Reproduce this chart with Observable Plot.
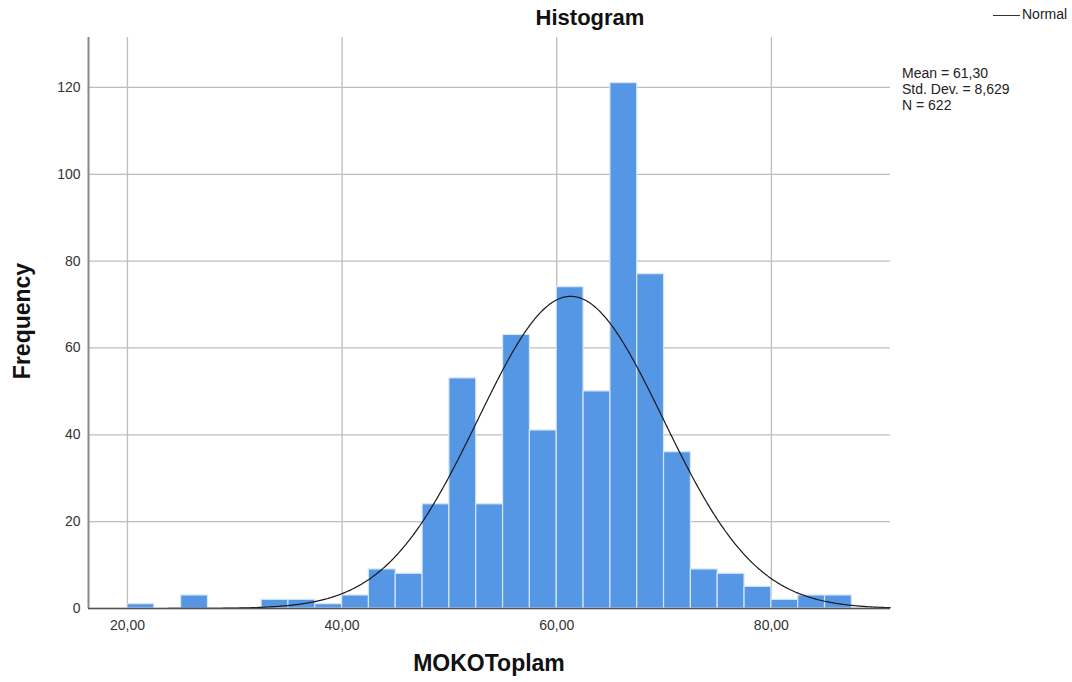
<!DOCTYPE html>
<html>
<head>
<meta charset="utf-8">
<script src="https://cdn.jsdelivr.net/npm/d3@7"></script>
<script src="https://cdn.jsdelivr.net/npm/@observablehq/plot@0.6"></script>
<style>
  body { margin: 0; background: #fff; font-family: "Liberation Sans", Arial, sans-serif; }
  #wrap { position: relative; width: 1072px; height: 682px; }
  .abs { position: absolute; white-space: nowrap; color: #000; }
</style>
</head>
<body>
<div id="wrap"></div>
<script>
// Bin edges (width 2.5) and frequencies
const binStarts = [20, 25, 32.5, 35, 37.5, 40, 42.5, 45, 47.5, 50, 52.5, 55, 57.5, 60, 62.5, 65, 67.5, 70, 72.5, 75, 77.5, 80, 82.5, 85];
const counts    = [1, 3, 2, 2, 1, 3, 9, 8, 24, 53, 24, 63, 41, 74, 50, 121, 77, 36, 9, 8, 5, 2, 3, 3];
const binWidth = 2.5;
const mean = 61.30, sd = 8.629, n = 622;
const xTicks = [20, 40, 60, 80];
const xTickLabels = ["20,00", "40,00", "60,00", "80,00"];
const yTicks = [0, 20, 40, 60, 80, 100, 120];

const bins = binStarts.map((s, i) => ({x1: s, x2: s + binWidth, y: counts[i]}));

const xDomain = [16.37, 91.1];
// Fitted normal curve defined by the stated Mean, Std. Dev. and N
const curve = d3.range(xDomain[0], xDomain[1] + 0.01, 0.1).map(x => ({
  x, y: n * binWidth * Math.exp(-0.5 * ((x - mean) / sd) ** 2) / (sd * Math.sqrt(2 * Math.PI))
}));

const chart = Plot.plot({
  width: 1072, height: 682,
  marginLeft: 88, marginRight: 182, marginTop: 37, marginBottom: 74,
  style: {fontFamily: "'Liberation Sans', Arial, sans-serif", fontSize: "14px", color: "#333", background: "#fff"},
  x: {domain: xDomain, ticks: xTicks, tickFormat: (d, i) => xTickLabels[i], tickSize: 0, tickPadding: 13, label: null},
  y: {domain: [0, 131.5], ticks: yTicks, tickSize: 0, tickPadding: 8, label: null},
  marks: [
    Plot.gridY(yTicks, {stroke: "#bdbdbd", strokeOpacity: 1, strokeWidth: 1.3}),
    Plot.gridX(xTicks, {stroke: "#bdbdbd", strokeOpacity: 1, strokeWidth: 1.3}),
    Plot.rectY(bins, {x1: "x1", x2: "x2", y: "y", fill: "#5596e5", stroke: "#d6e6fa", strokeWidth: 1.2}),
    Plot.line(curve, {x: "x", y: "y", stroke: "#1a1a1a", strokeWidth: 1.2}),
    Plot.ruleX([xDomain[0]], {stroke: "#888", strokeWidth: 2}),
    Plot.ruleY([0], {stroke: "#555", strokeWidth: 1.6}),
    Plot.axisX({ticks: xTicks, tickFormat: (d, i) => xTickLabels[i], tickSize: 0, tickPadding: 12, label: null, fill: "#333", fontSize: 14}),
    Plot.axisY({ticks: yTicks, tickSize: 0, tickPadding: 8, label: null, fill: "#333", fontSize: 14})
  ]
});
const wrap = document.getElementById("wrap");
wrap.appendChild(chart);

function addText(html, css) {
  const d = document.createElement("div");
  d.className = "abs";
  d.innerHTML = html;
  Object.assign(d.style, css);
  wrap.appendChild(d);
  return d;
}
addText("Histogram", {left: "590px", top: "5px", transform: "translateX(-50%)", fontSize: "22px", fontWeight: "bold", color: "#111"});
addText("MOKOToplam", {left: "489px", top: "650px", transform: "translateX(-50%)", fontSize: "23px", fontWeight: "bold", color: "#111"});
addText("Frequency", {left: "22px", top: "321px", transform: "translate(-50%,-50%) rotate(-90deg)", fontSize: "23px", fontWeight: "bold", color: "#111"});
addText('<span style="display:inline-block;width:27px;border-top:1.5px solid #333;vertical-align:middle;margin-right:2px"></span>Normal',
  {left: "993px", top: "6px", fontSize: "14px", color: "#222"});
addText("Mean = 61,30<br>Std. Dev. = 8,629<br>N = 622",
  {left: "902px", top: "65px", fontSize: "14px", lineHeight: "16px", color: "#222"});
</script>
</body>
</html>
